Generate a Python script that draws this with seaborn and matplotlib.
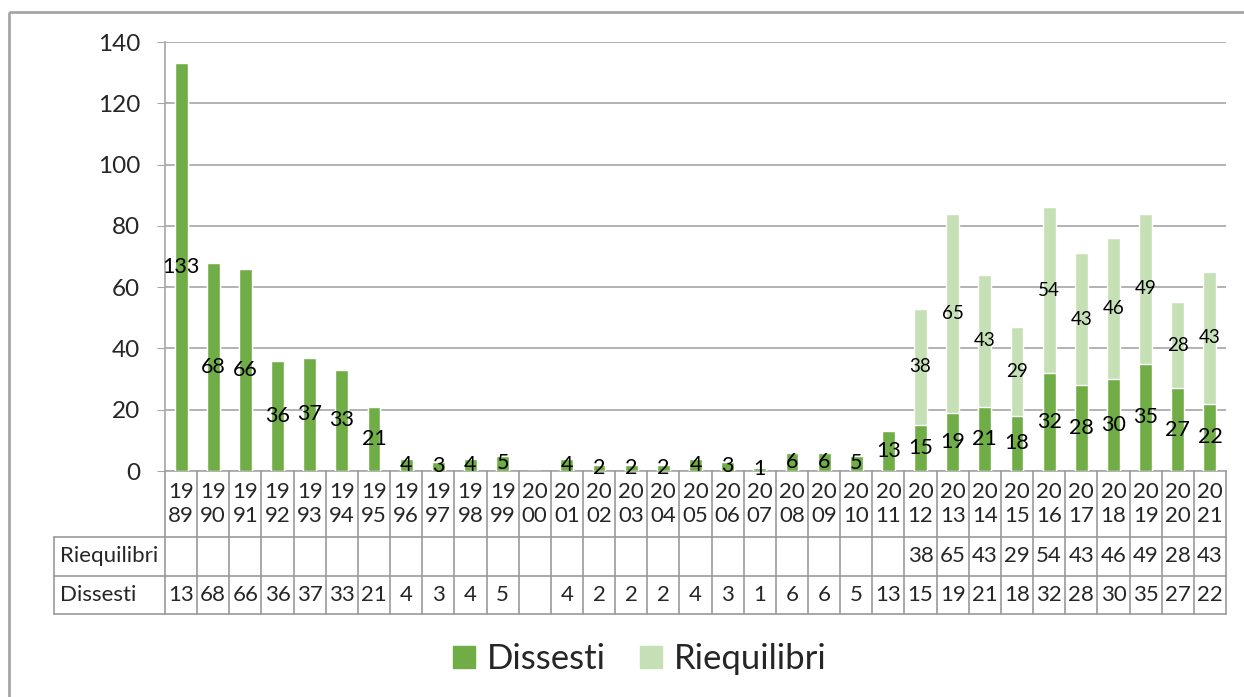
import numpy as np
import pandas as pd
import matplotlib.pyplot as plt
import seaborn as sns
from matplotlib.patches import Rectangle, Patch
from matplotlib.lines import Line2D
from matplotlib.transforms import blended_transform_factory

# Data
years = [str(y) for y in range(1989, 2022)]
dissesti = [133, 68, 66, 36, 37, 33, 21, 4, 3, 4, 5, np.nan, 4, 2, 2, 2, 4, 3, 1,
            6, 6, 5, 13, 15, 19, 21, 18, 32, 28, 30, 35, 27, 22]
riequilibri = [np.nan] * 23 + [38, 65, 43, 29, 54, 43, 46, 49, 28, 43]

dark = '#70ad47'
light = '#c5e0b4'
grid_col = '#a6a6a6'
table_col = '#999999'

df = pd.DataFrame({'Anno': years, 'Dissesti': dissesti, 'Riequilibri': riequilibri})
df['Totale'] = df['Dissesti'].fillna(0) + df['Riequilibri'].fillna(0)

sns.set_style('white')
plt.rcParams['font.family'] = ['Lato', 'DejaVu Sans']

W, H = 1244, 697
fig = plt.figure(figsize=(W / 100, H / 100), dpi=100)
ax = fig.add_axes([165 / W, 1 - 471 / H, (1226 - 165) / W, (471 - 42) / H])

# stacked bars: total (light) then dissesti (dark) on top
sns.barplot(data=df, x='Anno', y='Totale', color=light, width=0.4, saturation=1, ax=ax, zorder=3)
sns.barplot(data=df, x='Anno', y='Dissesti', color=dark, width=0.4, saturation=1, ax=ax, zorder=4)

ax.set_xlim(-0.5, len(years) - 0.5)
ax.set_ylim(0, 140)
ax.set_yticks(range(0, 141, 20))
ax.tick_params(axis='y', labelsize=17.5, length=6, color=grid_col, pad=12, left=True)
ax.tick_params(axis='x', bottom=False, labelbottom=False)
ax.set_xlabel('')
ax.set_ylabel('')
ax.grid(axis='y', color=grid_col, lw=1.2, zorder=0)
ax.set_axisbelow(True)
for s in ['top', 'right']:
    ax.spines[s].set_visible(False)
for s in ['left', 'bottom']:
    ax.spines[s].set_color(grid_col)
    ax.spines[s].set_linewidth(1.2)

# data labels
for i, (d, r) in enumerate(zip(dissesti, riequilibri)):
    if not np.isnan(d):
        ax.text(i, d / 2, f'{int(d)}', ha='center', va='center', fontsize=15.5, color='black', zorder=6)
    if not np.isnan(r):
        ax.text(i, d + r / 2, f'{int(r)}', ha='center', va='center', fontsize=13.5, color='black', zorder=6)

# data table below the chart (x in category units, y in pixels)
pix = fig.add_axes([0, 0, 1, 1], zorder=-1)
pix.set_xlim(0, W)
pix.set_ylim(H, 0)
pix.axis('off')
tr = blended_transform_factory(ax.transData, pix.transData)

n = len(years)
y_top, y_r, y_d, y_bot = 471, 537, 576, 614
for k in range(n + 1):
    x = k - 0.5
    fig.add_artist(Line2D([x, x], [y_top, y_bot], transform=tr, color=table_col, lw=1.2))
for y in [y_r, y_d, y_bot]:
    pix.plot([54, 165], [y, y], color=table_col, lw=1.2)
    fig.add_artist(Line2D([-0.5, n - 0.5], [y, y], transform=tr, color=table_col, lw=1.2))
pix.plot([54, 54], [y_r, y_bot], color=table_col, lw=1.2)

for i, yr in enumerate(years):
    pix.text(i, (y_top + y_r) / 2, yr[:2] + '\n' + yr[2:], transform=tr, ha='center', va='center',
             fontsize=16, linespacing=1.25)
    r = riequilibri[i]
    if not np.isnan(r):
        pix.text(i, (y_r + y_d) / 2, f'{int(r)}', transform=tr, ha='center', va='center', fontsize=16)
    d = dissesti[i]
    if not np.isnan(d):
        # Excel clips the three-digit value in the narrow cell
        pix.text(i, (y_d + y_bot) / 2, f'{int(d)}'[:2], transform=tr, ha='center', va='center', fontsize=16)
pix.text(60, (y_r + y_d) / 2, 'Riequilibri', ha='left', va='center', fontsize=16)
pix.text(60, (y_d + y_bot) / 2, 'Dissesti', ha='left', va='center', fontsize=16)

# outer chart border
pix.add_patch(Rectangle((9, 12), 1400, 800, fill=False, edgecolor=grid_col, lw=2))

handles = [Patch(color=dark, label='Dissesti'), Patch(color=light, label='Riequilibri')]
fig.legend(handles=handles, loc='center', bbox_to_anchor=(640 / W, 1 - 659 / H), ncol=2,
           frameon=False, fontsize=25, handlelength=0.62, handleheight=0.62,
           handletextpad=0.35, columnspacing=1.0)

fig.savefig('out.png', dpi=100)
